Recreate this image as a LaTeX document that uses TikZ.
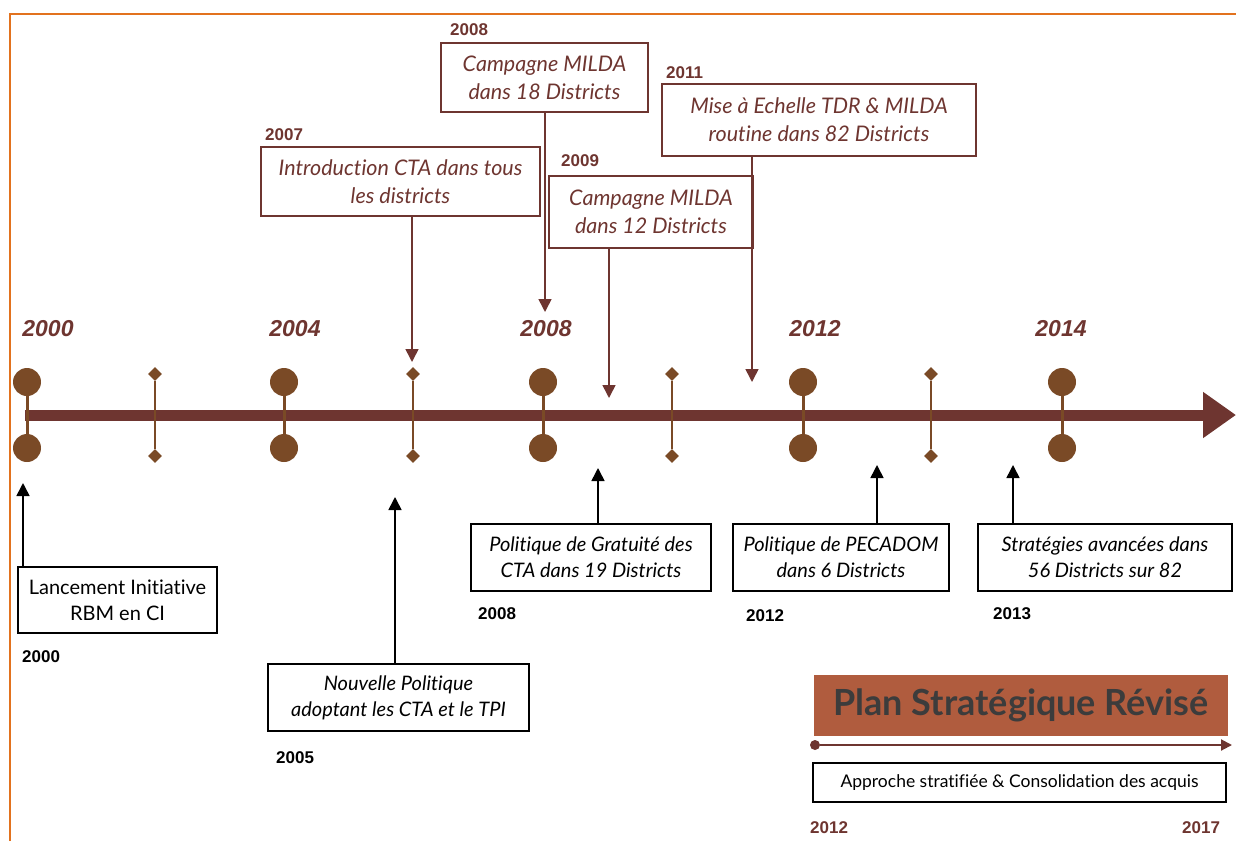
\documentclass[tikz,border=0pt]{standalone}
\usepackage{fontspec}
\setmainfont{Lato}[Ligatures=NoCommon]
\newfontfamily\yearfont{Liberation Sans}
\usetikzlibrary{arrows.meta,shapes.geometric}
\definecolor{bordeaux}{HTML}{6E3530}
\definecolor{pinbrown}{HTML}{7A4A26}
\definecolor{planred}{HTML}{B05C3E}
\definecolor{plantext}{HTML}{3C3C3C}
\definecolor{frameorange}{HTML}{E2721E}
\tikzset{
  topbox/.style={draw=bordeaux, line width=1.8pt, text=bordeaux, inner sep=0pt,
    align=center, font=\fontsize{21.5}{28}\selectfont\itshape},
  botbox/.style={draw=black, line width=2.2pt, text=black, inner sep=0pt,
    align=center, font=\fontsize{20}{26}\selectfont\itshape},
  bigyear/.style={text=bordeaux, font=\yearfont\fontsize{23}{23}\selectfont\bfseries\itshape},
  smallyear/.style={anchor=west, inner sep=0pt, font=\yearfont\fontsize{17}{17}\selectfont\bfseries},
  yeardot/.style={circle, fill=pinbrown, minimum size=28pt, inner sep=0pt},
  halfdiamond/.style={diamond, fill=pinbrown, minimum size=14pt, inner sep=0pt},
  uparrow/.style={->, black, line width=1.6pt},
  downarrow/.style={->, bordeaux, line width=1.6pt}
}
\begin{document}
\begin{tikzpicture}[x=1pt,y=-1pt,>={Triangle[width=13pt,length=13pt]}]
\useasboundingbox (0,0) rectangle (1236,841);
\draw[frameorange, line width=2pt] (10,841) -- (10,14) -- (1236,14);

\coordinate (tl0) at (25,415);
\coordinate (tl1) at (1236,415);
\draw[bordeaux, line width=11pt, -{Triangle[length=33pt,width=44pt]}] (tl0) -- (tl1);

\foreach \n/\px in {a/27, b/284, c/543, d/803, e/1062} {
  \node[yeardot] (\n up) at (\px,382) {};
  \node[yeardot] (\n dn) at (\px,448) {};
  \draw[pinbrown, line width=3pt] (\n up) -- (\n dn);
}
\foreach \n/\px in {f/155, g/413, h/672, i/931} {
  \node[halfdiamond] (\n up) at (\px,374) {};
  \node[halfdiamond] (\n dn) at (\px,456) {};
  \draw[pinbrown, line width=1.5pt] (\n up) -- (\n dn);
}

\node[bigyear] (y2000) at (48,329) {2000};
\node[bigyear] (y2004) at (295,329) {2004};
\node[bigyear] (y2008) at (546,329) {2008};
\node[bigyear] (y2012) at (815,329) {2012};
\node[bigyear] (y2014) at (1061,329) {2014};

\node[topbox, minimum width=279pt, minimum height=69pt] (cta07) at (400.5,181.5) {Introduction CTA dans tous\\les districts};
\node[topbox, minimum width=207pt, minimum height=69pt] (milda08) at (544.5,77.5) {Campagne MILDA\\dans 18 Districts};
\node[topbox, minimum width=204pt, minimum height=72pt] (milda09) at (651,212) {Campagne MILDA\\dans 12 Districts};
\node[topbox, minimum width=314pt, minimum height=72pt] (tdr11) at (819,120) {Mise à Echelle TDR \& MILDA\\routine dans 82 Districts};
\node[smallyear, text=bordeaux] (l2007) at (265,135) {2007};
\node[smallyear, text=bordeaux] (l2008) at (450,30) {2008};
\node[smallyear, text=bordeaux] (l2009) at (561,161) {2009};
\node[smallyear, text=bordeaux] (l2011) at (666,73) {2011};
\coordinate (t07) at (412,362);
\coordinate (t08) at (545,312);
\coordinate (t09) at (609,398);
\coordinate (t11) at (752,382);
\draw[downarrow] (cta07.south -| t07) -- (t07);
\draw[downarrow] (milda08.south -| t08) -- (t08);
\draw[downarrow] (milda09.south -| t09) -- (t09);
\draw[downarrow] (tdr11.south -| t11) -- (t11);

\node[botbox, font=\fontsize{20}{26}\selectfont, minimum width=199pt, minimum height=66pt] (rbm) at (117.5,600) {Lancement Initiative\\RBM en CI};
\node[botbox, minimum width=261pt, minimum height=67pt] (tpi) at (398.5,697.5) {Nouvelle Politique\\adoptant les CTA et le TPI};
\node[botbox, minimum width=240pt, minimum height=67pt] (grat) at (591,557.5) {Politique de Gratuité des\\CTA dans 19 Districts};
\node[botbox, minimum width=216pt, minimum height=67pt] (peca) at (841,557.5) {Politique de PECADOM\\dans 6 Districts};
\node[botbox, minimum width=254pt, minimum height=67pt] (strat) at (1105,557.5) {Stratégies avancées dans\\56 Districts sur 82};
\node[smallyear] (l2000) at (22,657) {2000};
\node[smallyear] (l2005) at (276,758) {2005};
\node[smallyear] (l2008b) at (478,614) {2008};
\node[smallyear] (l2012) at (746,616) {2012};
\node[smallyear] (l2013) at (993,614) {2013};
\coordinate (u00) at (23,483);
\coordinate (u05) at (395,497);
\coordinate (u08) at (598,468);
\coordinate (u12) at (877,465);
\coordinate (u13) at (1013,465);
\draw[uparrow] (rbm.north -| u00) -- (u00);
\draw[uparrow] (tpi.north -| u05) -- (u05);
\draw[uparrow] (grat.north -| u08) -- (u08);
\draw[uparrow] (peca.north -| u12) -- (u12);
\draw[uparrow] (strat.north -| u13) -- (u13);

\node[fill=planred, minimum width=414pt, minimum height=61pt, inner sep=0pt, text=plantext,
  font=\fontsize{36}{36}\selectfont\bfseries] (plan) at (1021,705.5) {Plan Stratégique Révisé};
\node[circle, fill=bordeaux, minimum size=10pt, inner sep=0pt] (p0) at (815,745) {};
\coordinate (p1) at (1232,745);
\draw[bordeaux, line width=2pt, -{Triangle[width=11pt,length=11pt]}] (p0) -- (p1);
\node[draw=black, line width=2pt, minimum width=413pt, minimum height=39pt, inner sep=0pt,
  font=\fontsize{17.5}{17.5}\selectfont] (acquis) at (1019.5,782.5) {Approche stratifiée \& Consolidation des acquis};
\node[smallyear, text=bordeaux] (l2012b) at (810,828) {2012};
\node[smallyear, text=bordeaux] (l2017) at (1182,828) {2017};
\end{tikzpicture}
\end{document}
